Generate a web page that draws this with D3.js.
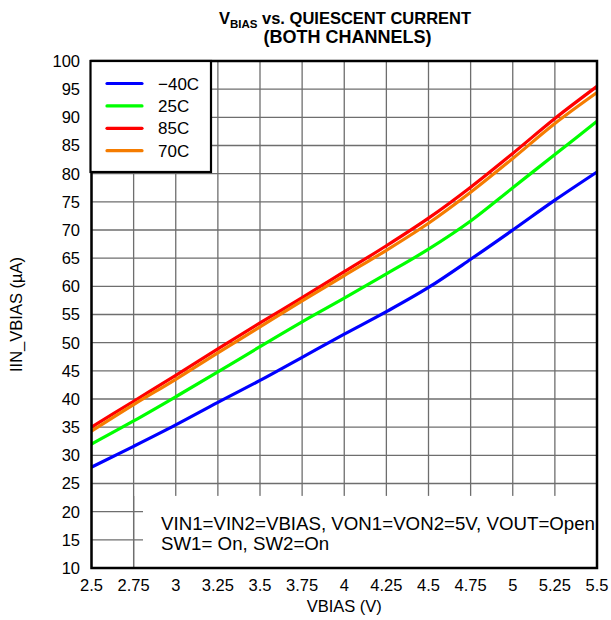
<!DOCTYPE html>
<html><head><meta charset="utf-8">
<script src="https://cdn.jsdelivr.net/npm/d3@7"></script>
<style>body{margin:0;background:#fff}svg text{font-family:"Liberation Sans",Arial,sans-serif}</style>
</head><body>
<script>
const vbias = [2.5,2.75,3,3.25,3.5,3.75,4,4.25,4.5,4.75,5,5.25,5.5];
const seriesNames = ["\u221240C","25C","85C","70C"];
const seriesColors = ["#0000ff","#00ff00","#ff0000","#f57c00"];
const iMinus40 = [27.9,31.6,35.4,39.4,43.3,47.4,51.5,55.5,59.8,64.8,70.0,75.3,80.3];
const i25 = [32.0,36.1,40.4,44.8,49.3,53.7,57.9,62.2,66.6,71.6,77.5,83.4,89.3];
const i85 = [35.0,39.6,44.2,48.9,53.5,58.0,62.6,67.2,72.1,77.6,83.6,89.8,95.5];
const i70 = [34.3,39.0,43.5,48.2,52.8,57.4,61.9,66.4,71.2,76.7,82.7,88.9,94.4];
const xTicks = [2.5,2.75,3,3.25,3.5,3.75,4,4.25,4.5,4.75,5,5.25,5.5];
const yTicks = [10,15,20,25,30,35,40,45,50,55,60,65,70,75,80,85,90,95,100];
const noteLines = ["VIN1=VIN2=VBIAS, VON1=VON2=5V, VOUT=Open","SW1= On, SW2=On"];

const W=611,H=620;
const L=91.5,R=597,T=61,B=568;
const svg=d3.select("body").append("svg").attr("width",W).attr("height",H);
const x=d3.scaleLinear().domain([2.5,5.5]).range([L,R]);
const y=d3.scaleLinear().domain([10,100]).range([B,T]);

// grid
const g=svg.append("g");
g.selectAll(".vg").data(xTicks).join("line").attr("x1",d=>x(d)).attr("x2",d=>x(d)).attr("y1",T).attr("y2",B)
 .attr("stroke","#6e6e6e").attr("stroke-width",1.3);
g.selectAll(".hg").data(yTicks).join("line").attr("x1",L).attr("x2",R).attr("y1",d=>y(d)).attr("y2",d=>y(d))
 .attr("stroke","#6e6e6e").attr("stroke-width",1.3);

// annotation white box (covers grid)
svg.append("rect").attr("x",143).attr("y",y(22.8)).attr("width",R-143).attr("height",B-y(22.8)).attr("fill","#fff");
svg.append("line").attr("x1",x(2.75)).attr("x2",x(2.75)).attr("y1",y(22.8)).attr("y2",B).attr("stroke","#6e6e6e").attr("stroke-width",1.3);

// lines
const data=[iMinus40,i25,i85,i70];
const line=d3.line().x((d,i)=>x(vbias[i])).y(d=>y(d)).curve(d3.curveMonotoneX);
svg.append("g").selectAll("path").data(data).join("path").attr("d",line)
 .attr("fill","none").attr("stroke",(d,i)=>seriesColors[i]).attr("stroke-width",3.2);

// frame
svg.append("rect").attr("x",L).attr("y",T).attr("width",R-L).attr("height",B-T)
 .attr("fill","none").attr("stroke","#000").attr("stroke-width",2.5);

// axes labels
svg.append("g").selectAll("text").data(yTicks).join("text").attr("x",80).attr("y",d=>y(d)).attr("dy","0.36em")
 .attr("text-anchor","end").attr("font-size",16.5).text(d=>d);
svg.append("g").selectAll("text").data(xTicks).join("text").attr("x",d=>x(d)).attr("y",591)
 .attr("text-anchor","middle").attr("font-size",16.5).text(d=>d);
svg.append("text").attr("x",x(4)).attr("y",612).attr("text-anchor","middle").attr("font-size",16.5).text("VBIAS (V)");
svg.append("text").attr("transform",`translate(22,${(T+B)/2}) rotate(-90)`).attr("text-anchor","middle").attr("font-size",16.5).text("IIN_VBIAS (\u00b5A)");

// title
const t1=svg.append("text").attr("x",345).attr("y",24).attr("text-anchor","middle").attr("font-size",16.5).attr("font-weight","bold");
t1.append("tspan").text("V");
t1.append("tspan").attr("font-size",11.5).attr("dy",4).text("BIAS");
t1.append("tspan").attr("dy",-4).text(" vs. QUIESCENT CURRENT");
svg.append("text").attr("x",347.5).attr("y",43).attr("text-anchor","middle").attr("font-size",18).attr("font-weight","bold").text("(BOTH CHANNELS)");

// legend
svg.append("rect").attr("x",90.5).attr("y",T).attr("width",120.5).attr("height",111).attr("fill","#fff").attr("stroke","#000").attr("stroke-width",2.2);
const lg=svg.append("g").selectAll("g").data(seriesNames).join("g").attr("transform",(d,i)=>`translate(0,${83.5+i*22.4})`);
lg.append("line").attr("x1",107).attr("x2",142).attr("stroke",(d,i)=>seriesColors[i]).attr("stroke-width",3.2).attr("stroke-linecap","round");
lg.append("text").attr("x",158).attr("dy","0.36em").attr("font-size",17).text(d=>d);

// annotation
svg.append("g").selectAll("text").data(noteLines).join("text").attr("x",161).attr("y",(d,i)=>530+i*20)
 .attr("font-size",18.7).text(d=>d);
</script>
</body></html>
